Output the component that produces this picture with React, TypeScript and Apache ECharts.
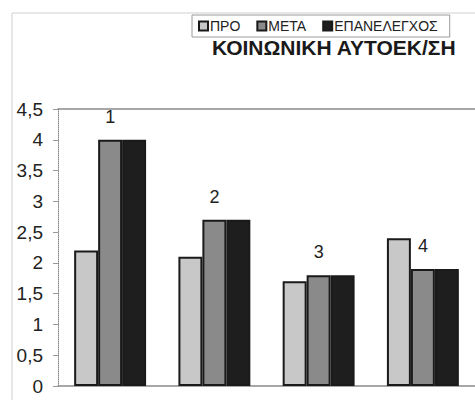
import React, { useEffect, useRef } from "react";
import * as echarts from "echarts";

const categories = ["1", "2", "3", "4"];
const seriesNames = ["ΠΡΟ", "ΜΕΤΑ", "ΕΠΑΝΕΛΕΓΧΟΣ"];
const pro = [2.2, 2.1, 1.7, 2.4];
const meta = [4.0, 2.7, 1.8, 1.9];
const epan = [4.0, 2.7, 1.8, 1.9];
const titleText = "ΚΟΙΝΩΝΙΚΗ ΑΥΤΟΕΚ/ΣΗ";

const FONT = "Liberation Sans, Arial, sans-serif";

export default function App() {
  const ref = useRef<HTMLDivElement>(null);
  useEffect(() => {
    if (!ref.current) return;
    const chart = echarts.init(ref.current, null, { renderer: "svg" });
    const colors = ["#c8c8c8", "#8a8a8a", "#1e1e1e"];
    const values = [pro, meta, epan];
    chart.setOption({
      animation: false,
      backgroundColor: "#ffffff",
      textStyle: { fontFamily: FONT },
      title: {
        text: titleText,
        left: 212,
        top: 37,
        padding: 0,
        textStyle: { fontSize: 21, fontWeight: "bold", color: "#1a1a1a", fontFamily: FONT },
      },
      legend: {
        data: seriesNames,
        left: 192,
        top: 15,
        padding: [4, 12, 4, 6],
        itemWidth: 9,
        itemHeight: 9,
        itemGap: 16,
        icon: "rect",
        borderColor: "#9a9a9a",
        borderWidth: 1,
        textStyle: { fontSize: 14, color: "#222", fontFamily: FONT, padding: [0, 0, 0, -3] },
      },
      graphic: [
        {
          type: "rect",
          shape: { x: 12, y: 13, width: 600, height: 500 },
          style: { fill: "none", stroke: "#cfcfcf", lineWidth: 1 },
          z: -1,
        },
      ],
      grid: { left: 58, top: 109, bottom: 14, right: -11 },
      xAxis: [
        {
          type: "category",
          data: categories,
          axisLine: { lineStyle: { color: "#8a8a8a", width: 1.5 } },
          axisTick: { show: false },
          axisLabel: { show: false },
        },
        {
          type: "category",
          data: categories,
          position: "top",
          axisLine: { lineStyle: { color: "#8a8a8a", width: 1.5 } },
          axisTick: { show: false },
          axisLabel: { show: false },
        },
      ],
      yAxis: {
        type: "value",
        min: 0,
        max: 4.5,
        interval: 0.5,
        axisLine: { show: true, lineStyle: { color: "#888", type: "dotted", width: 1 } },
        axisTick: { show: true, length: 5, lineStyle: { color: "#999" } },
        splitLine: { show: false },
        axisLabel: {
          fontSize: 19,
          color: "#222",
          margin: 15,
          fontFamily: FONT,
          formatter: (v: number) => String(v).replace(".", ","),
        },
      },
      series: seriesNames.map((name, i) => ({
        name,
        type: "bar",
        data: values[i],
        barGap: "0%",
        barCategoryGap: "31%",
        itemStyle: { color: colors[i], borderColor: "#1a1a1a", borderWidth: 2 },
        label:
          i === 1
            ? {
                show: true,
                position: "top",
                distance: 14,
                formatter: "{b}",
                fontSize: 18,
                color: "#222",
                fontFamily: FONT,
              }
            : { show: false },
      })),
    });
    return () => chart.dispose();
  }, []);
  return <div ref={ref} style={{ width: 475, height: 400, position: "absolute", left: 0, top: 0 }} />;
}
